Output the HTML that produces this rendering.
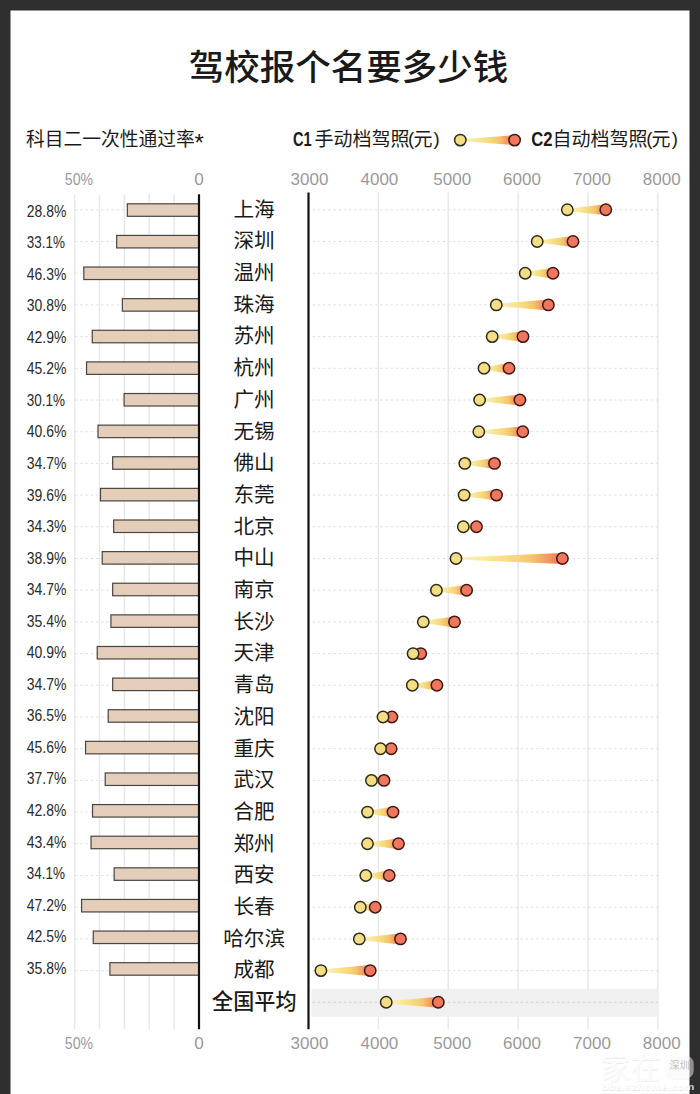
<!DOCTYPE html>
<html lang="zh-CN"><head><meta charset="utf-8"><title>驾校报个名要多少钱</title>
<style>html,body{margin:0;padding:0;background:#fff}body{width:700px;height:1094px;overflow:hidden}svg{display:block}text{font-family:'Liberation Sans', 'Noto Sans CJK SC', sans-serif}.city{font-size:20.6px;fill:#1a1a1a;text-anchor:middle}.pct{font-size:17px;fill:#2a2a2a}.tick{font-size:17px;fill:#9a9a9a}.sub{fill:#1a1a1a}</style></head><body>
<svg width="700" height="1094" viewBox="0 0 700 1094">
<defs>
<linearGradient id="wg" x1="0" y1="0" x2="1" y2="0"><stop offset="0" stop-color="#fbf2c8"/><stop offset="0.35" stop-color="#f8e596"/><stop offset="0.58" stop-color="#f6d676"/><stop offset="0.72" stop-color="#f5c26c"/><stop offset="0.84" stop-color="#f39e62"/><stop offset="0.95" stop-color="#f0805c"/><stop offset="1" stop-color="#ee7059"/></linearGradient>
</defs>
<rect x="0" y="0" width="700" height="1094" fill="#2f2f2f"/>
<rect x="10.5" y="10.5" width="679" height="1090" fill="#fff"/>
<text x="188.7" y="80" font-size="35.5" font-weight="500" fill="#1a1a1a">驾校报个名要多少钱</text>
<text class="sub" x="26.0" y="146" font-size="18.75">科目二一次性通过率</text>
<text x="194.4" y="151.0" font-size="24" fill="#1a1a1a">*</text>
<text x="293.00" y="146" font-size="19.5" font-weight="700" fill="#1a1a1a" textLength="18.6" lengthAdjust="spacingAndGlyphs">C1</text>
<text class="sub" y="146" font-size="19.0"><tspan x="314.40">手动档驾照</tspan><tspan x="408.00" font-size="18.6" dy="-0.6">(</tspan><tspan x="413.40" dy="0.6">元</tspan><tspan x="433.60" font-size="18.6" dy="-0.6">)</tspan></text>
<text x="531.20" y="146" font-size="19.5" font-weight="700" fill="#1a1a1a" textLength="21.4" lengthAdjust="spacingAndGlyphs">C2</text>
<text class="sub" y="146" font-size="19.0"><tspan x="552.60">自动档驾照</tspan><tspan x="646.20" font-size="18.6" dy="-0.6">(</tspan><tspan x="651.60" dy="0.6">元</tspan><tspan x="671.80" font-size="18.6" dy="-0.6">)</tspan></text>
<line x1="74.60" y1="194.3" x2="74.60" y2="1029.3" stroke="#e8e8e8" stroke-width="1.5"/>
<line x1="99.48" y1="194.3" x2="99.48" y2="1029.3" stroke="#e8e8e8" stroke-width="1.5"/>
<line x1="124.36" y1="194.3" x2="124.36" y2="1029.3" stroke="#e8e8e8" stroke-width="1.5"/>
<line x1="149.24" y1="194.3" x2="149.24" y2="1029.3" stroke="#e8e8e8" stroke-width="1.5"/>
<line x1="174.12" y1="194.3" x2="174.12" y2="1029.3" stroke="#e8e8e8" stroke-width="1.5"/>
<line x1="378.37" y1="192.5" x2="378.37" y2="1029.3" stroke="#e8e8e8" stroke-width="1.5"/>
<line x1="448.24" y1="192.5" x2="448.24" y2="1029.3" stroke="#e8e8e8" stroke-width="1.5"/>
<line x1="518.11" y1="192.5" x2="518.11" y2="1029.3" stroke="#e8e8e8" stroke-width="1.5"/>
<line x1="587.98" y1="192.5" x2="587.98" y2="1029.3" stroke="#e8e8e8" stroke-width="1.5"/>
<line x1="657.85" y1="192.5" x2="657.85" y2="1029.3" stroke="#e8e8e8" stroke-width="1.5"/>
<rect x="311.4" y="989.1" width="347.6" height="27.7" fill="#f0f0f0"/>
<line x1="75" y1="209.80" x2="199.00" y2="209.80" stroke="#e0e0e0" stroke-width="1" stroke-dasharray="2.6 2.6"/>
<line x1="312.5" y1="209.80" x2="658" y2="209.80" stroke="#e0e0e0" stroke-width="1" stroke-dasharray="2.6 2.6"/>
<rect x="127.35" y="203.80" width="71.65" height="12.5" fill="#e4ceb9" stroke="#4a4542" stroke-width="1.2"/>
<text class="pct" x="26.8" y="216.70" textLength="39.6" lengthAdjust="spacingAndGlyphs">28.8%</text>
<text class="city" x="254.1" y="216.60">上海</text>
<path d="M567.30 208.70 L605.80 204.30 L605.80 215.30 L567.30 210.90 Z" fill="url(#wg)"/>
<circle cx="605.80" cy="209.80" r="5.7" fill="#ef775f" stroke="#3f1713" stroke-width="1.5"/>
<circle cx="567.30" cy="209.80" r="5.7" fill="#f3de86" stroke="#2f2a17" stroke-width="1.5"/>
<line x1="75" y1="241.50" x2="199.00" y2="241.50" stroke="#e0e0e0" stroke-width="1" stroke-dasharray="2.6 2.6"/>
<line x1="312.5" y1="241.50" x2="658" y2="241.50" stroke="#e0e0e0" stroke-width="1" stroke-dasharray="2.6 2.6"/>
<rect x="116.65" y="235.42" width="82.35" height="12.5" fill="#e4ceb9" stroke="#4a4542" stroke-width="1.2"/>
<text class="pct" x="26.8" y="248.24" textLength="38.2" lengthAdjust="spacingAndGlyphs">33.1%</text>
<text class="city" x="254.1" y="248.30">深圳</text>
<path d="M537.20 240.40 L573.00 236.00 L573.00 247.00 L537.20 242.60 Z" fill="url(#wg)"/>
<circle cx="573.00" cy="241.50" r="5.7" fill="#ef775f" stroke="#3f1713" stroke-width="1.5"/>
<circle cx="537.20" cy="241.50" r="5.7" fill="#f3de86" stroke="#2f2a17" stroke-width="1.5"/>
<line x1="75" y1="273.20" x2="199.00" y2="273.20" stroke="#e0e0e0" stroke-width="1" stroke-dasharray="2.6 2.6"/>
<line x1="312.5" y1="273.20" x2="658" y2="273.20" stroke="#e0e0e0" stroke-width="1" stroke-dasharray="2.6 2.6"/>
<rect x="83.81" y="267.04" width="115.19" height="12.5" fill="#e4ceb9" stroke="#4a4542" stroke-width="1.2"/>
<text class="pct" x="26.8" y="279.78" textLength="39.6" lengthAdjust="spacingAndGlyphs">46.3%</text>
<text class="city" x="254.1" y="280.00">温州</text>
<path d="M525.20 272.10 L553.00 267.70 L553.00 278.70 L525.20 274.30 Z" fill="url(#wg)"/>
<circle cx="553.00" cy="273.20" r="5.7" fill="#ef775f" stroke="#3f1713" stroke-width="1.5"/>
<circle cx="525.20" cy="273.20" r="5.7" fill="#f3de86" stroke="#2f2a17" stroke-width="1.5"/>
<line x1="75" y1="304.90" x2="199.00" y2="304.90" stroke="#e0e0e0" stroke-width="1" stroke-dasharray="2.6 2.6"/>
<line x1="312.5" y1="304.90" x2="658" y2="304.90" stroke="#e0e0e0" stroke-width="1" stroke-dasharray="2.6 2.6"/>
<rect x="122.37" y="298.66" width="76.63" height="12.5" fill="#e4ceb9" stroke="#4a4542" stroke-width="1.2"/>
<text class="pct" x="26.8" y="311.32" textLength="39.6" lengthAdjust="spacingAndGlyphs">30.8%</text>
<text class="city" x="254.1" y="311.70">珠海</text>
<path d="M496.30 303.80 L548.40 299.40 L548.40 310.40 L496.30 306.00 Z" fill="url(#wg)"/>
<circle cx="548.40" cy="304.90" r="5.7" fill="#ef775f" stroke="#3f1713" stroke-width="1.5"/>
<circle cx="496.30" cy="304.90" r="5.7" fill="#f3de86" stroke="#2f2a17" stroke-width="1.5"/>
<line x1="75" y1="336.60" x2="199.00" y2="336.60" stroke="#e0e0e0" stroke-width="1" stroke-dasharray="2.6 2.6"/>
<line x1="312.5" y1="336.60" x2="658" y2="336.60" stroke="#e0e0e0" stroke-width="1" stroke-dasharray="2.6 2.6"/>
<rect x="92.26" y="330.28" width="106.74" height="12.5" fill="#e4ceb9" stroke="#4a4542" stroke-width="1.2"/>
<text class="pct" x="26.8" y="342.86" textLength="39.6" lengthAdjust="spacingAndGlyphs">42.9%</text>
<text class="city" x="254.1" y="343.40">苏州</text>
<path d="M492.20 335.50 L523.00 331.10 L523.00 342.10 L492.20 337.70 Z" fill="url(#wg)"/>
<circle cx="523.00" cy="336.60" r="5.7" fill="#ef775f" stroke="#3f1713" stroke-width="1.5"/>
<circle cx="492.20" cy="336.60" r="5.7" fill="#f3de86" stroke="#2f2a17" stroke-width="1.5"/>
<line x1="75" y1="368.30" x2="199.00" y2="368.30" stroke="#e0e0e0" stroke-width="1" stroke-dasharray="2.6 2.6"/>
<line x1="312.5" y1="368.30" x2="658" y2="368.30" stroke="#e0e0e0" stroke-width="1" stroke-dasharray="2.6 2.6"/>
<rect x="86.54" y="361.90" width="112.46" height="12.5" fill="#e4ceb9" stroke="#4a4542" stroke-width="1.2"/>
<text class="pct" x="26.8" y="374.40" textLength="39.6" lengthAdjust="spacingAndGlyphs">45.2%</text>
<text class="city" x="254.1" y="375.10">杭州</text>
<path d="M484.00 367.20 L509.00 362.80 L509.00 373.80 L484.00 369.40 Z" fill="url(#wg)"/>
<circle cx="509.00" cy="368.30" r="5.7" fill="#ef775f" stroke="#3f1713" stroke-width="1.5"/>
<circle cx="484.00" cy="368.30" r="5.7" fill="#f3de86" stroke="#2f2a17" stroke-width="1.5"/>
<line x1="75" y1="400.00" x2="199.00" y2="400.00" stroke="#e0e0e0" stroke-width="1" stroke-dasharray="2.6 2.6"/>
<line x1="312.5" y1="400.00" x2="658" y2="400.00" stroke="#e0e0e0" stroke-width="1" stroke-dasharray="2.6 2.6"/>
<rect x="124.11" y="393.52" width="74.89" height="12.5" fill="#e4ceb9" stroke="#4a4542" stroke-width="1.2"/>
<text class="pct" x="26.8" y="405.94" textLength="38.2" lengthAdjust="spacingAndGlyphs">30.1%</text>
<text class="city" x="254.1" y="406.80">广州</text>
<path d="M479.60 398.90 L519.90 394.50 L519.90 405.50 L479.60 401.10 Z" fill="url(#wg)"/>
<circle cx="519.90" cy="400.00" r="5.7" fill="#ef775f" stroke="#3f1713" stroke-width="1.5"/>
<circle cx="479.60" cy="400.00" r="5.7" fill="#f3de86" stroke="#2f2a17" stroke-width="1.5"/>
<line x1="75" y1="431.70" x2="199.00" y2="431.70" stroke="#e0e0e0" stroke-width="1" stroke-dasharray="2.6 2.6"/>
<line x1="312.5" y1="431.70" x2="658" y2="431.70" stroke="#e0e0e0" stroke-width="1" stroke-dasharray="2.6 2.6"/>
<rect x="97.99" y="425.14" width="101.01" height="12.5" fill="#e4ceb9" stroke="#4a4542" stroke-width="1.2"/>
<text class="pct" x="26.8" y="437.48" textLength="39.6" lengthAdjust="spacingAndGlyphs">40.6%</text>
<text class="city" x="254.1" y="438.50">无锡</text>
<path d="M478.80 430.60 L522.80 426.20 L522.80 437.20 L478.80 432.80 Z" fill="url(#wg)"/>
<circle cx="522.80" cy="431.70" r="5.7" fill="#ef775f" stroke="#3f1713" stroke-width="1.5"/>
<circle cx="478.80" cy="431.70" r="5.7" fill="#f3de86" stroke="#2f2a17" stroke-width="1.5"/>
<line x1="75" y1="463.40" x2="199.00" y2="463.40" stroke="#e0e0e0" stroke-width="1" stroke-dasharray="2.6 2.6"/>
<line x1="312.5" y1="463.40" x2="658" y2="463.40" stroke="#e0e0e0" stroke-width="1" stroke-dasharray="2.6 2.6"/>
<rect x="112.67" y="456.76" width="86.33" height="12.5" fill="#e4ceb9" stroke="#4a4542" stroke-width="1.2"/>
<text class="pct" x="26.8" y="469.02" textLength="39.6" lengthAdjust="spacingAndGlyphs">34.7%</text>
<text class="city" x="254.1" y="470.20">佛山</text>
<path d="M464.80 462.30 L494.50 457.90 L494.50 468.90 L464.80 464.50 Z" fill="url(#wg)"/>
<circle cx="494.50" cy="463.40" r="5.7" fill="#ef775f" stroke="#3f1713" stroke-width="1.5"/>
<circle cx="464.80" cy="463.40" r="5.7" fill="#f3de86" stroke="#2f2a17" stroke-width="1.5"/>
<line x1="75" y1="495.10" x2="199.00" y2="495.10" stroke="#e0e0e0" stroke-width="1" stroke-dasharray="2.6 2.6"/>
<line x1="312.5" y1="495.10" x2="658" y2="495.10" stroke="#e0e0e0" stroke-width="1" stroke-dasharray="2.6 2.6"/>
<rect x="100.48" y="488.38" width="98.52" height="12.5" fill="#e4ceb9" stroke="#4a4542" stroke-width="1.2"/>
<text class="pct" x="26.8" y="500.56" textLength="39.6" lengthAdjust="spacingAndGlyphs">39.6%</text>
<text class="city" x="254.1" y="501.90">东莞</text>
<path d="M464.10 494.00 L496.50 489.60 L496.50 500.60 L464.10 496.20 Z" fill="url(#wg)"/>
<circle cx="496.50" cy="495.10" r="5.7" fill="#ef775f" stroke="#3f1713" stroke-width="1.5"/>
<circle cx="464.10" cy="495.10" r="5.7" fill="#f3de86" stroke="#2f2a17" stroke-width="1.5"/>
<line x1="75" y1="526.80" x2="199.00" y2="526.80" stroke="#e0e0e0" stroke-width="1" stroke-dasharray="2.6 2.6"/>
<line x1="312.5" y1="526.80" x2="658" y2="526.80" stroke="#e0e0e0" stroke-width="1" stroke-dasharray="2.6 2.6"/>
<rect x="113.66" y="520.00" width="85.34" height="12.5" fill="#e4ceb9" stroke="#4a4542" stroke-width="1.2"/>
<text class="pct" x="26.8" y="532.10" textLength="39.6" lengthAdjust="spacingAndGlyphs">34.3%</text>
<text class="city" x="254.1" y="533.60">北京</text>
<path d="M463.30 525.70 L476.50 521.30 L476.50 532.30 L463.30 527.90 Z" fill="url(#wg)"/>
<circle cx="476.50" cy="526.80" r="5.7" fill="#ef775f" stroke="#3f1713" stroke-width="1.5"/>
<circle cx="463.30" cy="526.80" r="5.7" fill="#f3de86" stroke="#2f2a17" stroke-width="1.5"/>
<line x1="75" y1="558.50" x2="199.00" y2="558.50" stroke="#e0e0e0" stroke-width="1" stroke-dasharray="2.6 2.6"/>
<line x1="312.5" y1="558.50" x2="658" y2="558.50" stroke="#e0e0e0" stroke-width="1" stroke-dasharray="2.6 2.6"/>
<rect x="102.22" y="551.62" width="96.78" height="12.5" fill="#e4ceb9" stroke="#4a4542" stroke-width="1.2"/>
<text class="pct" x="26.8" y="563.64" textLength="39.6" lengthAdjust="spacingAndGlyphs">38.9%</text>
<text class="city" x="254.1" y="565.30">中山</text>
<path d="M456.00 557.40 L562.40 553.00 L562.40 564.00 L456.00 559.60 Z" fill="url(#wg)"/>
<circle cx="562.40" cy="558.50" r="5.7" fill="#ef775f" stroke="#3f1713" stroke-width="1.5"/>
<circle cx="456.00" cy="558.50" r="5.7" fill="#f3de86" stroke="#2f2a17" stroke-width="1.5"/>
<line x1="75" y1="590.20" x2="199.00" y2="590.20" stroke="#e0e0e0" stroke-width="1" stroke-dasharray="2.6 2.6"/>
<line x1="312.5" y1="590.20" x2="658" y2="590.20" stroke="#e0e0e0" stroke-width="1" stroke-dasharray="2.6 2.6"/>
<rect x="112.67" y="583.24" width="86.33" height="12.5" fill="#e4ceb9" stroke="#4a4542" stroke-width="1.2"/>
<text class="pct" x="26.8" y="595.18" textLength="39.6" lengthAdjust="spacingAndGlyphs">34.7%</text>
<text class="city" x="254.1" y="597.00">南京</text>
<path d="M436.40 589.10 L466.60 584.70 L466.60 595.70 L436.40 591.30 Z" fill="url(#wg)"/>
<circle cx="466.60" cy="590.20" r="5.7" fill="#ef775f" stroke="#3f1713" stroke-width="1.5"/>
<circle cx="436.40" cy="590.20" r="5.7" fill="#f3de86" stroke="#2f2a17" stroke-width="1.5"/>
<line x1="75" y1="621.90" x2="199.00" y2="621.90" stroke="#e0e0e0" stroke-width="1" stroke-dasharray="2.6 2.6"/>
<line x1="312.5" y1="621.90" x2="658" y2="621.90" stroke="#e0e0e0" stroke-width="1" stroke-dasharray="2.6 2.6"/>
<rect x="110.92" y="614.86" width="88.08" height="12.5" fill="#e4ceb9" stroke="#4a4542" stroke-width="1.2"/>
<text class="pct" x="26.8" y="626.72" textLength="39.6" lengthAdjust="spacingAndGlyphs">35.4%</text>
<text class="city" x="254.1" y="628.70">长沙</text>
<path d="M423.30 620.80 L454.50 616.40 L454.50 627.40 L423.30 623.00 Z" fill="url(#wg)"/>
<circle cx="454.50" cy="621.90" r="5.7" fill="#ef775f" stroke="#3f1713" stroke-width="1.5"/>
<circle cx="423.30" cy="621.90" r="5.7" fill="#f3de86" stroke="#2f2a17" stroke-width="1.5"/>
<line x1="75" y1="653.60" x2="199.00" y2="653.60" stroke="#e0e0e0" stroke-width="1" stroke-dasharray="2.6 2.6"/>
<line x1="312.5" y1="653.60" x2="658" y2="653.60" stroke="#e0e0e0" stroke-width="1" stroke-dasharray="2.6 2.6"/>
<rect x="97.24" y="646.48" width="101.76" height="12.5" fill="#e4ceb9" stroke="#4a4542" stroke-width="1.2"/>
<text class="pct" x="26.8" y="658.26" textLength="39.6" lengthAdjust="spacingAndGlyphs">40.9%</text>
<text class="city" x="254.1" y="660.40">天津</text>
<path d="M413.10 652.50 L420.70 648.10 L420.70 659.10 L413.10 654.70 Z" fill="url(#wg)"/>
<circle cx="420.70" cy="653.60" r="5.7" fill="#ef775f" stroke="#3f1713" stroke-width="1.5"/>
<circle cx="413.10" cy="653.60" r="5.7" fill="#f3de86" stroke="#2f2a17" stroke-width="1.5"/>
<line x1="75" y1="685.30" x2="199.00" y2="685.30" stroke="#e0e0e0" stroke-width="1" stroke-dasharray="2.6 2.6"/>
<line x1="312.5" y1="685.30" x2="658" y2="685.30" stroke="#e0e0e0" stroke-width="1" stroke-dasharray="2.6 2.6"/>
<rect x="112.67" y="678.10" width="86.33" height="12.5" fill="#e4ceb9" stroke="#4a4542" stroke-width="1.2"/>
<text class="pct" x="26.8" y="689.80" textLength="39.6" lengthAdjust="spacingAndGlyphs">34.7%</text>
<text class="city" x="254.1" y="692.10">青岛</text>
<path d="M412.30 684.20 L436.90 679.80 L436.90 690.80 L412.30 686.40 Z" fill="url(#wg)"/>
<circle cx="436.90" cy="685.30" r="5.7" fill="#ef775f" stroke="#3f1713" stroke-width="1.5"/>
<circle cx="412.30" cy="685.30" r="5.7" fill="#f3de86" stroke="#2f2a17" stroke-width="1.5"/>
<line x1="75" y1="717.00" x2="199.00" y2="717.00" stroke="#e0e0e0" stroke-width="1" stroke-dasharray="2.6 2.6"/>
<line x1="312.5" y1="717.00" x2="658" y2="717.00" stroke="#e0e0e0" stroke-width="1" stroke-dasharray="2.6 2.6"/>
<rect x="108.19" y="709.72" width="90.81" height="12.5" fill="#e4ceb9" stroke="#4a4542" stroke-width="1.2"/>
<text class="pct" x="26.8" y="721.34" textLength="39.6" lengthAdjust="spacingAndGlyphs">36.5%</text>
<text class="city" x="254.1" y="723.80">沈阳</text>
<path d="M383.00 715.90 L391.90 711.50 L391.90 722.50 L383.00 718.10 Z" fill="url(#wg)"/>
<circle cx="391.90" cy="717.00" r="5.7" fill="#ef775f" stroke="#3f1713" stroke-width="1.5"/>
<circle cx="383.00" cy="717.00" r="5.7" fill="#f3de86" stroke="#2f2a17" stroke-width="1.5"/>
<line x1="75" y1="748.70" x2="199.00" y2="748.70" stroke="#e0e0e0" stroke-width="1" stroke-dasharray="2.6 2.6"/>
<line x1="312.5" y1="748.70" x2="658" y2="748.70" stroke="#e0e0e0" stroke-width="1" stroke-dasharray="2.6 2.6"/>
<rect x="85.55" y="741.34" width="113.45" height="12.5" fill="#e4ceb9" stroke="#4a4542" stroke-width="1.2"/>
<text class="pct" x="26.8" y="752.88" textLength="39.6" lengthAdjust="spacingAndGlyphs">45.6%</text>
<text class="city" x="254.1" y="755.50">重庆</text>
<path d="M380.50 747.60 L391.20 743.20 L391.20 754.20 L380.50 749.80 Z" fill="url(#wg)"/>
<circle cx="391.20" cy="748.70" r="5.7" fill="#ef775f" stroke="#3f1713" stroke-width="1.5"/>
<circle cx="380.50" cy="748.70" r="5.7" fill="#f3de86" stroke="#2f2a17" stroke-width="1.5"/>
<line x1="75" y1="780.40" x2="199.00" y2="780.40" stroke="#e0e0e0" stroke-width="1" stroke-dasharray="2.6 2.6"/>
<line x1="312.5" y1="780.40" x2="658" y2="780.40" stroke="#e0e0e0" stroke-width="1" stroke-dasharray="2.6 2.6"/>
<rect x="105.20" y="772.96" width="93.80" height="12.5" fill="#e4ceb9" stroke="#4a4542" stroke-width="1.2"/>
<text class="pct" x="26.8" y="784.42" textLength="39.6" lengthAdjust="spacingAndGlyphs">37.7%</text>
<text class="city" x="254.1" y="787.20">武汉</text>
<path d="M371.50 779.30 L384.00 774.90 L384.00 785.90 L371.50 781.50 Z" fill="url(#wg)"/>
<circle cx="384.00" cy="780.40" r="5.7" fill="#ef775f" stroke="#3f1713" stroke-width="1.5"/>
<circle cx="371.50" cy="780.40" r="5.7" fill="#f3de86" stroke="#2f2a17" stroke-width="1.5"/>
<line x1="75" y1="812.10" x2="199.00" y2="812.10" stroke="#e0e0e0" stroke-width="1" stroke-dasharray="2.6 2.6"/>
<line x1="312.5" y1="812.10" x2="658" y2="812.10" stroke="#e0e0e0" stroke-width="1" stroke-dasharray="2.6 2.6"/>
<rect x="92.51" y="804.58" width="106.49" height="12.5" fill="#e4ceb9" stroke="#4a4542" stroke-width="1.2"/>
<text class="pct" x="26.8" y="815.96" textLength="39.6" lengthAdjust="spacingAndGlyphs">42.8%</text>
<text class="city" x="254.1" y="818.90">合肥</text>
<path d="M367.50 811.00 L393.00 806.60 L393.00 817.60 L367.50 813.20 Z" fill="url(#wg)"/>
<circle cx="393.00" cy="812.10" r="5.7" fill="#ef775f" stroke="#3f1713" stroke-width="1.5"/>
<circle cx="367.50" cy="812.10" r="5.7" fill="#f3de86" stroke="#2f2a17" stroke-width="1.5"/>
<line x1="75" y1="843.80" x2="199.00" y2="843.80" stroke="#e0e0e0" stroke-width="1" stroke-dasharray="2.6 2.6"/>
<line x1="312.5" y1="843.80" x2="658" y2="843.80" stroke="#e0e0e0" stroke-width="1" stroke-dasharray="2.6 2.6"/>
<rect x="91.02" y="836.20" width="107.98" height="12.5" fill="#e4ceb9" stroke="#4a4542" stroke-width="1.2"/>
<text class="pct" x="26.8" y="847.50" textLength="39.6" lengthAdjust="spacingAndGlyphs">43.4%</text>
<text class="city" x="254.1" y="850.60">郑州</text>
<path d="M367.50 842.70 L398.50 838.30 L398.50 849.30 L367.50 844.90 Z" fill="url(#wg)"/>
<circle cx="398.50" cy="843.80" r="5.7" fill="#ef775f" stroke="#3f1713" stroke-width="1.5"/>
<circle cx="367.50" cy="843.80" r="5.7" fill="#f3de86" stroke="#2f2a17" stroke-width="1.5"/>
<line x1="75" y1="875.50" x2="199.00" y2="875.50" stroke="#e0e0e0" stroke-width="1" stroke-dasharray="2.6 2.6"/>
<line x1="312.5" y1="875.50" x2="658" y2="875.50" stroke="#e0e0e0" stroke-width="1" stroke-dasharray="2.6 2.6"/>
<rect x="114.16" y="867.82" width="84.84" height="12.5" fill="#e4ceb9" stroke="#4a4542" stroke-width="1.2"/>
<text class="pct" x="26.8" y="879.04" textLength="38.2" lengthAdjust="spacingAndGlyphs">34.1%</text>
<text class="city" x="254.1" y="882.30">西安</text>
<path d="M365.80 874.40 L389.20 870.00 L389.20 881.00 L365.80 876.60 Z" fill="url(#wg)"/>
<circle cx="389.20" cy="875.50" r="5.7" fill="#ef775f" stroke="#3f1713" stroke-width="1.5"/>
<circle cx="365.80" cy="875.50" r="5.7" fill="#f3de86" stroke="#2f2a17" stroke-width="1.5"/>
<line x1="75" y1="907.20" x2="199.00" y2="907.20" stroke="#e0e0e0" stroke-width="1" stroke-dasharray="2.6 2.6"/>
<line x1="312.5" y1="907.20" x2="658" y2="907.20" stroke="#e0e0e0" stroke-width="1" stroke-dasharray="2.6 2.6"/>
<rect x="81.57" y="899.44" width="117.43" height="12.5" fill="#e4ceb9" stroke="#4a4542" stroke-width="1.2"/>
<text class="pct" x="26.8" y="910.58" textLength="39.6" lengthAdjust="spacingAndGlyphs">47.2%</text>
<text class="city" x="254.1" y="914.00">长春</text>
<path d="M360.30 906.10 L375.20 901.70 L375.20 912.70 L360.30 908.30 Z" fill="url(#wg)"/>
<circle cx="375.20" cy="907.20" r="5.7" fill="#ef775f" stroke="#3f1713" stroke-width="1.5"/>
<circle cx="360.30" cy="907.20" r="5.7" fill="#f3de86" stroke="#2f2a17" stroke-width="1.5"/>
<line x1="75" y1="938.90" x2="199.00" y2="938.90" stroke="#e0e0e0" stroke-width="1" stroke-dasharray="2.6 2.6"/>
<line x1="312.5" y1="938.90" x2="658" y2="938.90" stroke="#e0e0e0" stroke-width="1" stroke-dasharray="2.6 2.6"/>
<rect x="93.26" y="931.06" width="105.74" height="12.5" fill="#e4ceb9" stroke="#4a4542" stroke-width="1.2"/>
<text class="pct" x="26.8" y="942.12" textLength="39.6" lengthAdjust="spacingAndGlyphs">42.5%</text>
<text class="city" x="254.1" y="945.70">哈尔滨</text>
<path d="M359.30 937.80 L400.50 933.40 L400.50 944.40 L359.30 940.00 Z" fill="url(#wg)"/>
<circle cx="400.50" cy="938.90" r="5.7" fill="#ef775f" stroke="#3f1713" stroke-width="1.5"/>
<circle cx="359.30" cy="938.90" r="5.7" fill="#f3de86" stroke="#2f2a17" stroke-width="1.5"/>
<line x1="75" y1="970.60" x2="199.00" y2="970.60" stroke="#e0e0e0" stroke-width="1" stroke-dasharray="2.6 2.6"/>
<line x1="312.5" y1="970.60" x2="658" y2="970.60" stroke="#e0e0e0" stroke-width="1" stroke-dasharray="2.6 2.6"/>
<rect x="109.93" y="962.68" width="89.07" height="12.5" fill="#e4ceb9" stroke="#4a4542" stroke-width="1.2"/>
<text class="pct" x="26.8" y="973.66" textLength="39.6" lengthAdjust="spacingAndGlyphs">35.8%</text>
<text class="city" x="254.1" y="977.40">成都</text>
<path d="M320.90 969.50 L370.20 965.10 L370.20 976.10 L320.90 971.70 Z" fill="url(#wg)"/>
<circle cx="370.20" cy="970.60" r="5.7" fill="#ef775f" stroke="#3f1713" stroke-width="1.5"/>
<circle cx="320.90" cy="970.60" r="5.7" fill="#f3de86" stroke="#2f2a17" stroke-width="1.5"/>
<line x1="312.5" y1="1002.30" x2="658" y2="1002.30" stroke="#d2d2d2" stroke-width="1" stroke-dasharray="2.6 2.6"/>
<text class="city" x="254.3" y="1009.30" font-weight="500" style="font-size:21.1px">全国平均</text>
<path d="M386.20 1001.20 L438.30 996.80 L438.30 1007.80 L386.20 1003.40 Z" fill="url(#wg)"/>
<circle cx="438.30" cy="1002.30" r="5.7" fill="#ef775f" stroke="#3f1713" stroke-width="1.5"/>
<circle cx="386.20" cy="1002.30" r="5.7" fill="#f3de86" stroke="#2f2a17" stroke-width="1.5"/>
<path d="M460.3 139.20 L514.6 135.10 L514.6 145.10 L460.3 141.00 Z" fill="url(#wg)"/>
<circle cx="514.6" cy="140.10" r="5.7" fill="#ef775f" stroke="#3f1713" stroke-width="1.5"/>
<circle cx="460.3" cy="140.10" r="5.7" fill="#f3de86" stroke="#2f2a17" stroke-width="1.5"/>
<line x1="199.00" y1="194.3" x2="199.00" y2="1029.3" stroke="#111" stroke-width="2.2"/>
<line x1="308.50" y1="192.5" x2="308.50" y2="1029.3" stroke="#111" stroke-width="2.2"/>
<text class="tick" x="64.8" y="184.8" textLength="28.2" lengthAdjust="spacingAndGlyphs">50%</text>
<text class="tick" x="199" y="184.8" text-anchor="middle">0</text>
<text class="tick" x="309.5" y="184.8" text-anchor="middle">3000</text>
<text class="tick" x="379.4" y="184.8" text-anchor="middle">4000</text>
<text class="tick" x="452.2" y="184.8" text-anchor="middle">5000</text>
<text class="tick" x="522.0" y="184.8" text-anchor="middle">6000</text>
<text class="tick" x="592.0" y="184.8" text-anchor="middle">7000</text>
<text class="tick" x="661.7" y="184.8" text-anchor="middle">8000</text>
<text class="tick" x="64.8" y="1048.6" textLength="28.2" lengthAdjust="spacingAndGlyphs">50%</text>
<text class="tick" x="199" y="1048.6" text-anchor="middle">0</text>
<text class="tick" x="309.5" y="1048.6" text-anchor="middle">3000</text>
<text class="tick" x="379.4" y="1048.6" text-anchor="middle">4000</text>
<text class="tick" x="452.2" y="1048.6" text-anchor="middle">5000</text>
<text class="tick" x="522.0" y="1048.6" text-anchor="middle">6000</text>
<text class="tick" x="592.0" y="1048.6" text-anchor="middle">7000</text>
<text class="tick" x="661.7" y="1048.6" text-anchor="middle">8000</text>
<defs><filter id="ws" x="-10%" y="-20%" width="120%" height="150%"><feDropShadow dx="0.4" dy="0.9" stdDeviation="0.7" flood-color="#000" flood-opacity="0.16"/></filter></defs>
<g filter="url(#ws)">
<text x="600.5" y="1078" font-size="30" font-weight="500" fill="#fff" fill-opacity="0.55" textLength="60" lengthAdjust="spacingAndGlyphs">家在</text>
<rect x="665.4" y="1055.7" width="28.3" height="22.8" rx="8" fill="#fff" fill-opacity="0.45"/>
<text x="601.5" y="1089.6" font-size="9.6" font-weight="700" fill="#fff" fill-opacity="0.75" textLength="93" lengthAdjust="spacingAndGlyphs">bbs.szhome.com</text>
</g>
<text x="669.2" y="1068.6" font-size="10.4" fill="#c4c4c4">深圳</text>
</svg></body></html>
